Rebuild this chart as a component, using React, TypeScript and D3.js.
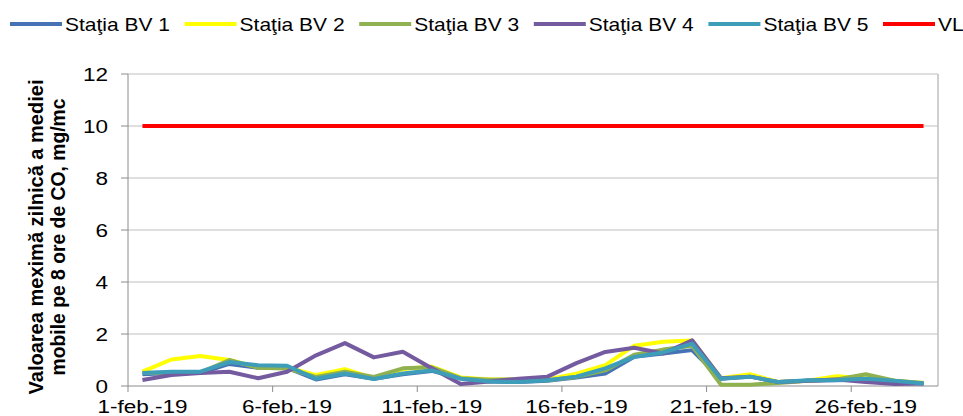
import React from 'react';
import * as d3 from 'd3';

// zile (februarie 2019)
const categories = [
  '1-feb.-19', '2-feb.-19', '3-feb.-19', '4-feb.-19', '5-feb.-19', '6-feb.-19', '7-feb.-19',
  '8-feb.-19', '9-feb.-19', '10-feb.-19', '11-feb.-19', '12-feb.-19', '13-feb.-19', '14-feb.-19',
  '15-feb.-19', '16-feb.-19', '17-feb.-19', '18-feb.-19', '19-feb.-19', '20-feb.-19', '21-feb.-19',
  '22-feb.-19', '23-feb.-19', '24-feb.-19', '25-feb.-19', '26-feb.-19', '27-feb.-19', '28-feb.-19',
];

const bv1 = [0.45, 0.5, 0.5, 0.85, 0.7, 0.7, 0.25, 0.45, 0.28, 0.45, 0.58, 0.3, 0.17, 0.15,
  0.2, 0.33, 0.48, 1.12, 1.25, 1.38, 0.28, 0.38, 0.15, 0.2, 0.22, 0.25, 0.18, 0.1];
const bv2 = [0.55, 1.02, 1.15, 1.0, 0.72, 0.72, 0.42, 0.65, 0.3, 0.65, 0.75, 0.33, 0.25, 0.25,
  0.25, 0.47, 0.8, 1.55, 1.7, 1.75, 0.3, 0.45, 0.15, 0.2, 0.38, 0.3, 0.2, 0.12];
const bv3 = [0.5, 0.52, 0.52, 1.0, 0.7, 0.67, 0.35, 0.55, 0.35, 0.68, 0.72, 0.3, 0.24, 0.25,
  0.22, 0.35, 0.6, 1.2, 1.4, 1.55, 0.05, 0.05, 0.12, 0.2, 0.25, 0.45, 0.2, 0.12];
const bv4 = [0.23, 0.42, 0.5, 0.55, 0.3, 0.55, 1.18, 1.65, 1.1, 1.32, 0.68, 0.08, 0.17, 0.28,
  0.36, 0.88, 1.31, 1.47, 1.25, 1.76, 0.3, 0.36, 0.15, 0.2, 0.25, 0.15, 0.08, 0.1];
const bv5 = [0.5, 0.55, 0.55, 0.92, 0.8, 0.78, 0.28, 0.48, 0.27, 0.48, 0.6, 0.28, 0.17, 0.15,
  0.22, 0.36, 0.68, 1.12, 1.29, 1.63, 0.28, 0.36, 0.15, 0.22, 0.23, 0.28, 0.2, 0.1];
const vl = [10, 10, 10, 10, 10, 10, 10, 10, 10, 10, 10, 10, 10, 10,
  10, 10, 10, 10, 10, 10, 10, 10, 10, 10, 10, 10, 10, 10];

const seriesNames = ['Staţia BV 1', 'Staţia BV 2', 'Staţia BV 3', 'Staţia BV 4', 'Staţia BV 5', 'VL'];
const yTicks = [0, 2, 4, 6, 8, 10, 12];
const xLabelEvery = 5;

const series = [
  { name: seriesNames[0], values: bv1, color: '#4573B5' },
  { name: seriesNames[1], values: bv2, color: '#FFFF00' },
  { name: seriesNames[2], values: bv3, color: '#8FB150' },
  { name: seriesNames[3], values: bv4, color: '#745A9F' },
  { name: seriesNames[4], values: bv5, color: '#3E9DB9' },
  { name: seriesNames[5], values: vl, color: '#FF0000' },
];

const W = 963;
const H = 416;
const left = 128;
const right = 938;
const top = 74;
const bottom = 386;
const font = '"Liberation Sans", Arial, sans-serif';

export default function App() {
  const x = d3.scaleBand<string>().domain(categories).range([left, right]).paddingInner(0).paddingOuter(0);
  const y = d3.scaleLinear().domain([0, 12]).range([bottom, top]);
  const cx = (c: string) => (x(c) ?? 0) + x.bandwidth() / 2;

  const line = d3.line<number>()
    .x((_, i) => cx(categories[i]))
    .y(d => y(d));

  const tickIdx = categories.map((_, i) => i).filter(i => i % xLabelEvery === 0);

  return (
    <svg width={W} height={H} style={{ position: 'absolute', left: 0, top: 0, background: '#fff' }}
      fontFamily={font}>
      {/* legenda */}
      {series.map((s, i) => {
        const lx = 10 + i * 174.6;
        return (
          <g key={s.name}>
            <line x1={lx} x2={lx + 52} y1={24} y2={24} stroke={s.color} strokeWidth={4} />
            <text transform={`translate(${lx + 55},31) scale(1.2,1)`} fontSize={17.5} fill="#000">{s.name}</text>
          </g>
        );
      })}

      {/* grila */}
      {yTicks.filter(t => t > 0).map(t => (
        <line key={t} x1={left} x2={right} y1={y(t)} y2={y(t)} stroke="#BFBFBF" strokeWidth={1} />
      ))}
      <line x1={right} x2={right} y1={top} y2={bottom} stroke="#BFBFBF" strokeWidth={1.5} />

      {/* axa Y */}
      <line x1={left} x2={left} y1={top} y2={bottom} stroke="#8C8C8C" strokeWidth={1} />
      {yTicks.map(t => (
        <g key={t}>
          <line x1={left - 7} x2={left} y1={y(t)} y2={y(t)} stroke="#8C8C8C" />
          <text transform={`translate(${left - 20},${y(t) + 6.5}) scale(1.25,1)`} textAnchor="end"
            fontSize={18} fill="#000">{t}</text>
        </g>
      ))}

      {/* axa X */}
      <line x1={left} x2={right} y1={bottom} y2={bottom} stroke="#8C8C8C" strokeWidth={1} />
      {tickIdx.map(i => (
        <g key={i}>
          <line x1={x(categories[i])} x2={x(categories[i])} y1={bottom} y2={bottom + 6} stroke="#8C8C8C" />
          <text transform={`translate(${cx(categories[i])},${bottom + 27}) scale(1.25,1)`} textAnchor="middle"
            fontSize={18} fill="#000">{categories[i]}</text>
        </g>
      ))}

      {/* titlul axei Y */}
      <text transform="translate(43,237) rotate(-90)" textAnchor="middle" fontSize={20.5} fontWeight="bold"
        textLength={315} lengthAdjust="spacingAndGlyphs">Valoarea meximă zilnică a mediei</text>
      <text transform="translate(65,237) rotate(-90)" textAnchor="middle" fontSize={20.5} fontWeight="bold"
        textLength={277} lengthAdjust="spacingAndGlyphs">mobile pe 8 ore de CO, mg/mc</text>

      {/* serii */}
      {series.map(s => (
        <path key={s.name} d={line(s.values) ?? ''} fill="none" stroke={s.color} strokeWidth={4}
          strokeLinejoin="round" />
      ))}
    </svg>
  );
}
